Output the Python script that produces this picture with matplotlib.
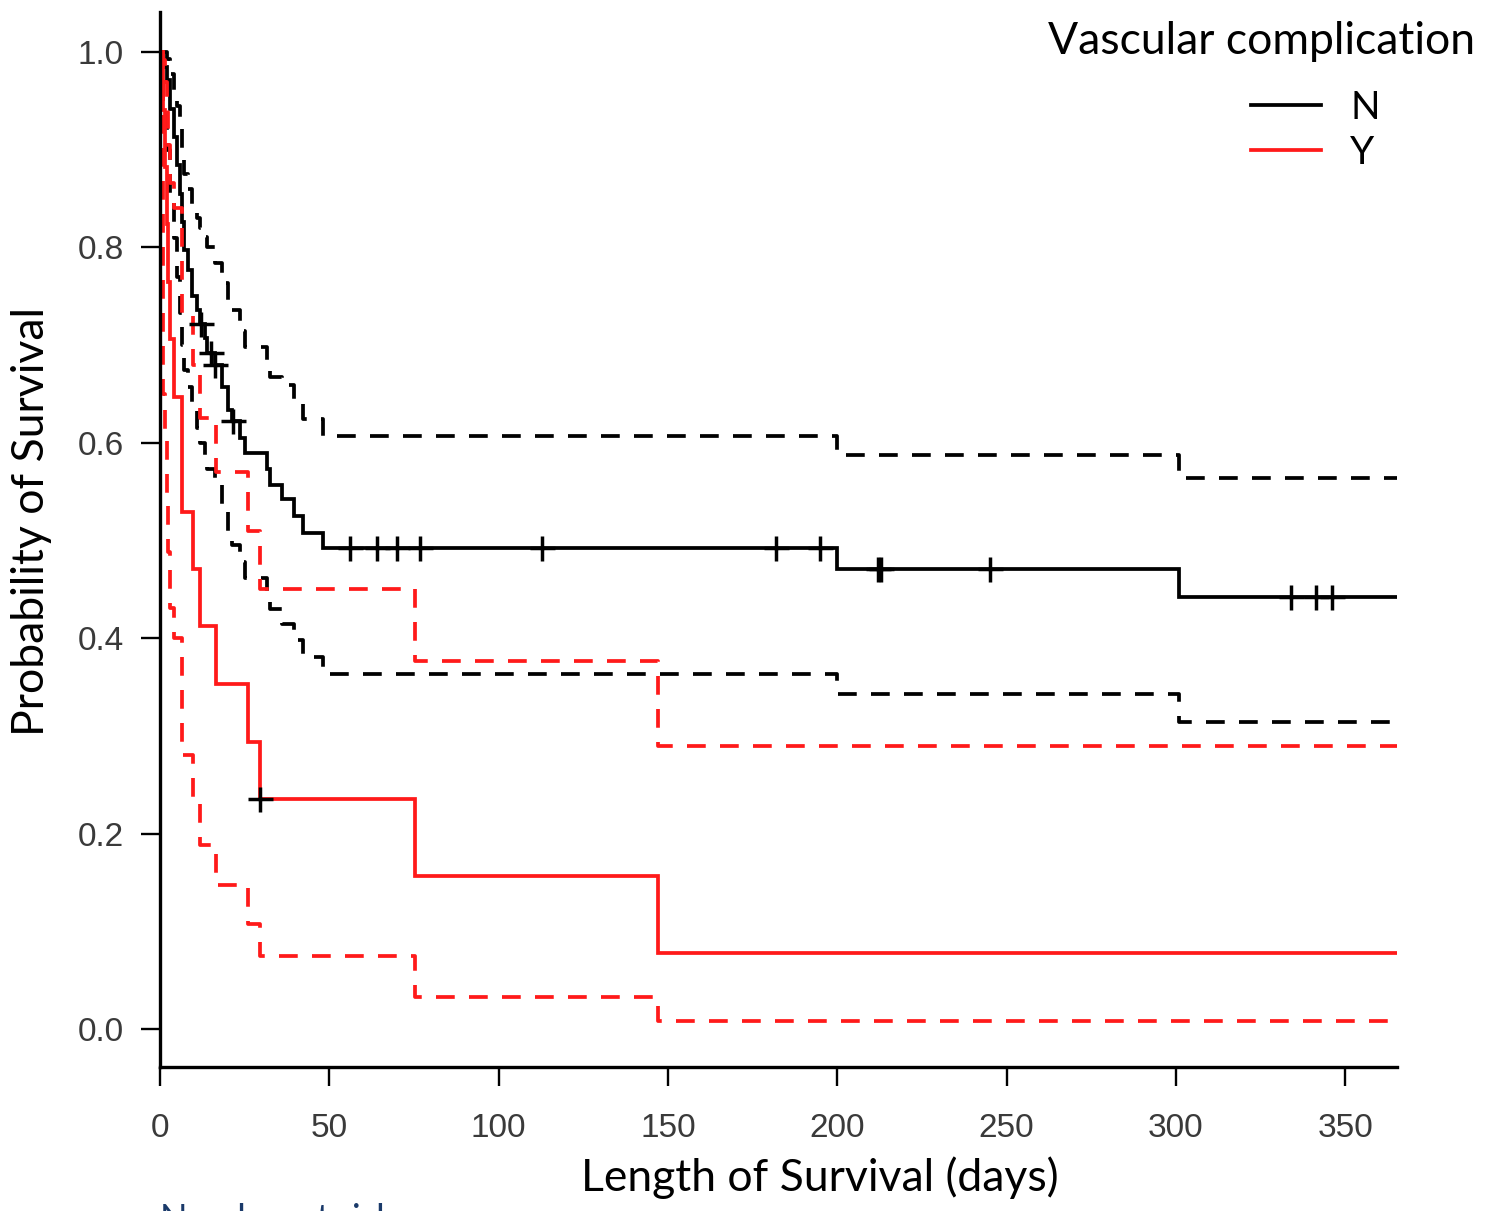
import matplotlib
matplotlib.use("Agg")
import matplotlib.pyplot as plt
import numpy as np
from matplotlib.lines import Line2D

# ---------------- data ----------------
# Group N (no vascular complication): KM step times, estimate and 95% CI
t_N = [0, 1, 2, 3, 4, 5, 6, 6.5, 7, 8.3, 9.5, 10.9, 11.8, 13.3, 14, 16.2, 18.3,
       20.1, 21.3, 23.6, 25.1, 31.5, 32.5, 36, 39.5, 42.2, 48, 200, 301]
s_N = [1.0, .985, .971, .942, .913, .884, .855, .826, .797, .777, .750, .736, .722,
       .707, .692, .680, .657, .634, .622, .605, .590, .573, .557, .542, .525, .508,
       .4926, .471, .4424]
up_N = [1.0, 1.0, .993, .978, .96, .945, .925, .90, .875, .86, .84, .83, .82, .811,
        .80, .784, .764, .745, .736, .714, .698, .677, .667, .659, .641, .624, .607,
        .587, .564]
lo_N = [1.0, .94, .90, .85, .81, .77, .733, .70, .675, .657, .634, .615, .60, .586,
        .573, .560, .535, .508, .495, .478, .462, .446, .43, .414, .398, .381, .3635,
        .343, .314]
cens_N = [12, 15, 16.3, 21.5, 56.1, 64.1, 70.0, 76.8, 112.8, 182, 195, 212, 213,
          245.2, 334, 341.5, 346.2]

# Group Y (vascular complication)
t_Y = [0, 1, 1.5, 2, 2.5, 3, 4, 6.4, 9.8, 11.8, 16.5, 26.1, 29.5, 75.3, 147.1]
s_Y = [1.0, .941, .882, .824, .765, .706, .647, .529, .471, .412, .353, .294, .235,
       .157, .078]
up_Y = [1.0, .992, .969, .939, .905, .866, .84, .733, .68, .625, .57, .51, .45,
        .377, .29]
lo_Y = [1.0, .65, .605, .548, .488, .431, .40, .28, .235, .188, .147, .107, .075,
        .033, .008]
cens_Y = [29.5]

group_labels = ["N", "Y"]
legend_title = "Vascular complication"
x_ticks = [0, 50, 100, 150, 200, 250, 300, 350]
y_ticks = [0.0, 0.2, 0.4, 0.6, 0.8, 1.0]
X_END = 365.3

# ---------------- figure ----------------
W, H = 1499, 1211
fig = plt.figure(figsize=(W / 100, H / 100), dpi=100)
L, R, T, B = 160, 1397, 12, 1067
ax = fig.add_axes([L / W, 1 - B / H, (R - L) / W, (B - T) / H])

RED = "#ff1a1a"
LW = 2.7
DASH = (5.0, 3.8)


def ext(t, v):
    return list(t) + [X_END], list(v) + [v[-1]]


def at(t, v, c):
    i = np.searchsorted(np.asarray(t), c, side="right") - 1
    return v[i]


for t, s, up, lo, col in [(t_N, s_N, up_N, lo_N, "black"), (t_Y, s_Y, up_Y, lo_Y, RED)]:
    tt, vv = ext(t, s)
    ax.step(tt, vv, where="post", color=col, lw=LW, solid_joinstyle="miter")
    for ci in (up, lo):
        tt, vv = ext(t, ci)
        ax.step(tt, vv, where="post", color=col, lw=LW, dashes=DASH)

# censoring marks (all drawn in black in the reference)
for t, s, cens in [(t_N, s_N, cens_N), (t_Y, s_Y, cens_Y)]:
    ys = [at(t, s, c) for c in cens]
    ax.plot(cens, ys, ls="none", marker="+", color="black", ms=18, mew=2.5)

ax.set_xlim(0, X_END)
ax.set_ylim(-0.039, 1.041)
ax.set_xticks(x_ticks)
ax.set_yticks(y_ticks)
ax.set_xticklabels([str(v) for v in x_ticks])
ax.set_yticklabels([f"{v:.1f}" for v in y_ticks])
for side in ("top", "right"):
    ax.spines[side].set_visible(False)
for side in ("left", "bottom"):
    ax.spines[side].set_linewidth(2.4)
ax.tick_params(direction="out", length=14, width=1.7, colors="black",
               labelcolor="#3a3a3a", labelsize=24)
ax.tick_params(axis="x", pad=19)
ax.tick_params(axis="y", pad=12)
for lab in ax.get_xticklabels() + ax.get_yticklabels():
    lab.set_family("Liberation Sans")

lab_font = dict(family="Lato", size=32, color="black")
ax.set_xlabel("Length of Survival (days)", **lab_font)
ax.xaxis.set_label_coords((820 - L) / (R - L), (B - 1178) / (B - T))
ax.xaxis.label.set_va("center")
ax.set_ylabel("Probability of Survival", **lab_font)
ax.yaxis.set_label_coords((32 - L) / (R - L), (B - 521) / (B - T))
ax.yaxis.label.set_va("center")

# legend
handles = [Line2D([], [], color="black", lw=LW), Line2D([], [], color=RED, lw=LW)]
leg = ax.legend(handles, group_labels, loc="upper left",
                bbox_to_anchor=(1216 / W, 1 - 55 / H), bbox_transform=fig.transFigure,
                frameon=False, handlelength=1.8, handletextpad=0.75,
                labelspacing=0.22, prop=dict(family="Lato", size=28))
fig.text(1261 / W, 1 - 42 / H, legend_title, ha="center", va="center",
         family="Lato", size=32, color="black")

# "Number at risk" (cut off at the bottom edge in the reference)
fig.text(160 / W, 1 - 1203 / H, "Number at risk", ha="left", va="top",
         family="Lato", size=26, color="#1a3a6a")

fig.savefig("out.png", dpi=100)
